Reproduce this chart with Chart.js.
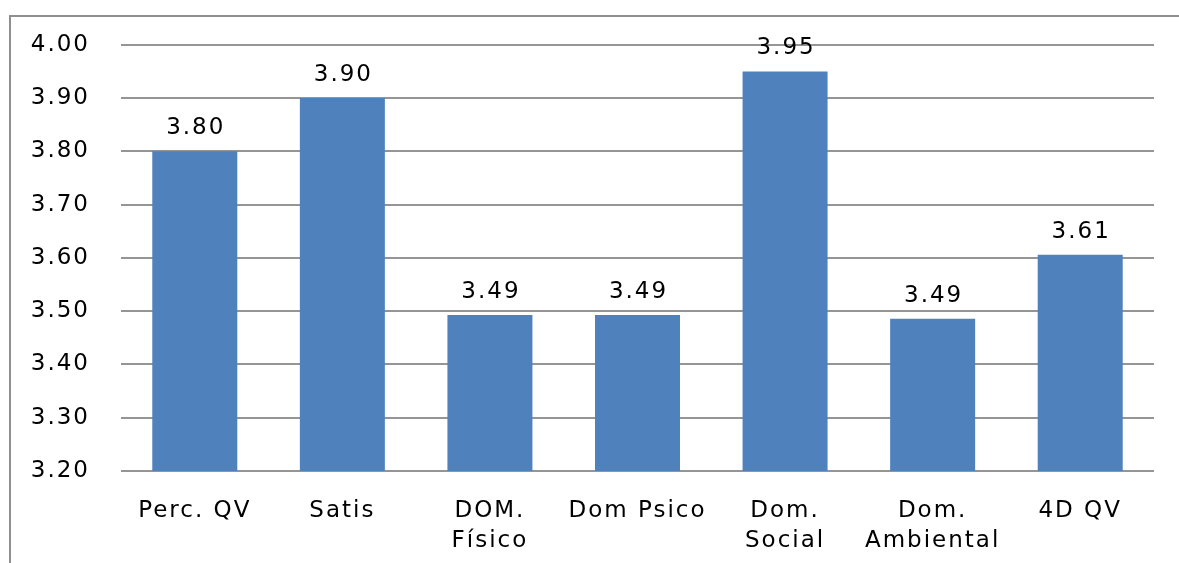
<!DOCTYPE html>
<html>
<head>
<meta charset="utf-8">
<script src="https://cdn.jsdelivr.net/npm/chart.js@4/dist/chart.umd.min.js"></script>
<style>
    html, body { margin: 0; background: #fff; overflow: hidden; }
    #wrap { position: relative; width: 1179px; height: 563px; }
</style>
</head>
<body>
<div id="wrap">
    <canvas id="myChart"></canvas>
</div>
<script>
const categories = ['Perc. QV', 'Satis', ['DOM.', 'Físico'], 'Dom Psico', ['Dom.', 'Social'], ['Dom.', 'Ambiental'], '4D QV'];
const scores = [3.80, 3.90, 3.493, 3.493, 3.95, 3.486, 3.606];
const yTicks = [3.20, 3.30, 3.40, 3.50, 3.60, 3.70, 3.80, 3.90, 4.00];

Chart.defaults.font.family = "'DejaVu Sans', sans-serif";
Chart.defaults.font.size = 23;
Chart.defaults.color = '#000';

// the original text is set a little wide
const spacing = {
    id: 'spacing',
    beforeUpdate(chart) { chart.ctx.letterSpacing = '2px'; },
    beforeDraw(chart) { chart.ctx.letterSpacing = '2px'; }
};

// grey outline along the left and top of the chart box
const outline = {
    id: 'outline',
    beforeDraw(chart) {
        const c = chart.ctx;
        c.save();
        c.strokeStyle = '#8f8f8f';
        c.lineWidth = 2;
        c.beginPath();
        c.moveTo(10, chart.height);
        c.lineTo(10, 16);
        c.lineTo(chart.width, 16);
        c.stroke();
        c.restore();
    }
};

// value written above each bar
const barValues = {
    id: 'barValues',
    afterDatasetsDraw(chart) {
        const ctx = chart.ctx;
        const meta = chart.getDatasetMeta(0);
        ctx.save();
        ctx.font = "23px 'DejaVu Sans', sans-serif";
        ctx.fillStyle = '#000';
        ctx.textAlign = 'center';
        ctx.textBaseline = 'alphabetic';
        meta.data.forEach((bar, i) => {
            ctx.fillText(scores[i].toFixed(2), bar.x + 1, bar.y - 17);
        });
        ctx.restore();
    }
};

const ctx = document.getElementById('myChart').getContext('2d');

const myChart = new Chart(ctx, {
    type: 'bar',
    data: {
        labels: categories,
        datasets: [{
            data: scores,
            backgroundColor: '#4f81bd',
            barPercentage: 0.576,
            categoryPercentage: 1
        }]
    },
    plugins: [spacing, outline, barValues],
    options: {
        responsive: true,
        maintainAspectRatio: false,
        animation: false,
        layout: { padding: { top: 44, right: 25, left: 0, bottom: 0 } },
        plugins: {
            legend: { display: false },
            tooltip: { enabled: false }
        },
        scales: {
            x: {
                grid: { display: false },
                border: { display: false },
                ticks: { padding: 17, autoSkip: false, maxRotation: 0, font: { lineHeight: 1.3 } },
                afterFit(scale) { scale.height = 92; }
            },
            y: {
                min: 3.2,
                max: 4.0,
                afterBuildTicks(scale) { scale.ticks = yTicks.map(v => ({ value: v })); },
                ticks: {
                    padding: 31,
                    callback: v => Number(v).toFixed(2)
                },
                grid: { color: '#959595', lineWidth: 2, drawTicks: false },
                border: { display: false },
                afterFit(scale) { scale.width = 121; }
            }
        }
    }
});
</script>
</body>
</html>
